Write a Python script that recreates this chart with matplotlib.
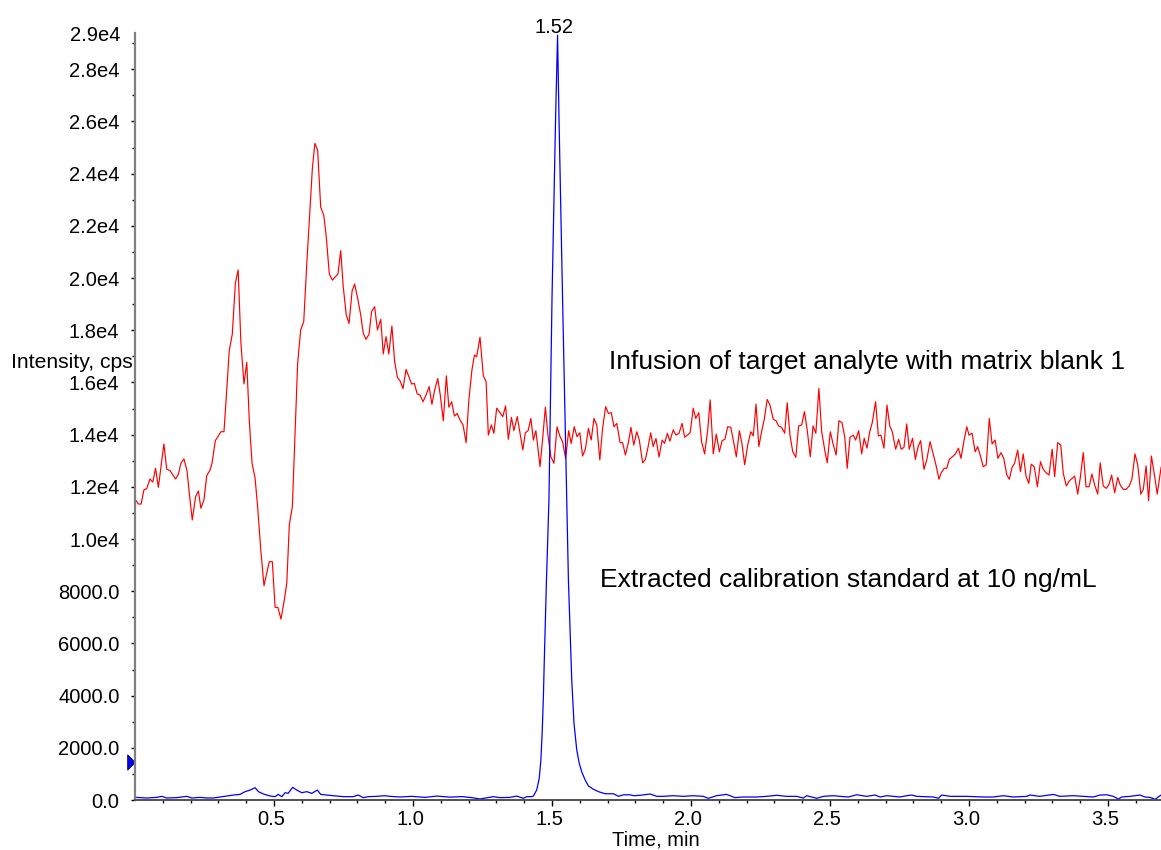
import numpy as np
import matplotlib
matplotlib.use("Agg")
import matplotlib.pyplot as plt
from matplotlib.path import Path
import matplotlib.transforms as mtransforms

plt.rcParams['font.family'] = ['Liberation Sans', 'DejaVu Sans']

# --- Infusion trace (red): time in min, intensity in kcps ---
red_time = [
    0.004, 0.012, 0.022, 0.032, 0.042, 0.054, 0.064, 0.074, 0.084, 0.104,
    0.114, 0.126, 0.146, 0.156, 0.165, 0.176, 0.187, 0.198, 0.206, 0.218,
    0.228, 0.237, 0.248, 0.258, 0.270, 0.277, 0.289, 0.300, 0.309, 0.320,
    0.330, 0.339, 0.350, 0.361, 0.371, 0.381, 0.392, 0.402, 0.411, 0.421,
    0.432, 0.442, 0.453, 0.464, 0.474, 0.483, 0.494, 0.504, 0.514, 0.525,
    0.536, 0.546, 0.555, 0.566, 0.576, 0.585, 0.596, 0.607, 0.618, 0.627,
    0.638, 0.647, 0.657, 0.668, 0.679, 0.688, 0.699, 0.710, 0.721, 0.730,
    0.740, 0.749, 0.760, 0.770, 0.781, 0.790, 0.801, 0.812, 0.821, 0.831,
    0.842, 0.851, 0.862, 0.872, 0.884, 0.893, 0.903, 0.913, 0.924, 0.934,
    0.944, 0.953, 0.964, 0.975, 0.986, 0.995, 1.005, 1.015, 1.025, 1.036,
    1.047, 1.058, 1.068, 1.078, 1.089, 1.098, 1.109, 1.120, 1.129, 1.139,
    1.149, 1.159, 1.169, 1.180, 1.191, 1.201, 1.212, 1.221, 1.229, 1.241,
    1.253, 1.263, 1.271, 1.282, 1.291, 1.301, 1.310, 1.323, 1.333, 1.343,
    1.354, 1.363, 1.375, 1.385, 1.395, 1.404, 1.414, 1.424, 1.433, 1.442,
    1.457, 1.467, 1.476, 1.486, 1.496, 1.507, 1.518, 1.529, 1.538, 1.549,
    1.560, 1.569, 1.580, 1.590, 1.600, 1.610, 1.620, 1.631, 1.641, 1.651,
    1.661, 1.672, 1.682, 1.693, 1.703, 1.713, 1.723, 1.733, 1.745, 1.754,
    1.764, 1.774, 1.784, 1.794, 1.805, 1.814, 1.826, 1.836, 1.845, 1.855,
    1.864, 1.874, 1.885, 1.896, 1.905, 1.915, 1.924, 1.936, 1.946, 1.957,
    1.968, 1.977, 1.987, 1.997, 2.008, 2.017, 2.028, 2.038, 2.049, 2.060,
    2.069, 2.080, 2.091, 2.102, 2.112, 2.122, 2.132, 2.143, 2.152, 2.163,
    2.174, 2.183, 2.193, 2.204, 2.215, 2.224, 2.234, 2.244, 2.254, 2.264,
    2.274, 2.284, 2.296, 2.306, 2.315, 2.326, 2.337, 2.346, 2.356, 2.366,
    2.377, 2.387, 2.398, 2.408, 2.418, 2.429, 2.439, 2.449, 2.460, 2.470,
    2.481, 2.490, 2.501, 2.512, 2.522, 2.532, 2.543, 2.553, 2.562, 2.572,
    2.584, 2.592, 2.603, 2.614, 2.623, 2.633, 2.643, 2.652, 2.664, 2.674,
    2.683, 2.694, 2.705, 2.715, 2.724, 2.736, 2.747, 2.756, 2.766, 2.776,
    2.785, 2.797, 2.807, 2.817, 2.826, 2.838, 2.848, 2.860, 2.872, 2.881,
    2.892, 2.900, 2.911, 2.920, 2.929, 2.940, 2.951, 2.962, 2.971, 2.982,
    2.992, 3.000, 3.011, 3.022, 3.031, 3.042, 3.051, 3.062, 3.073, 3.083,
    3.094, 3.104, 3.115, 3.125, 3.136, 3.145, 3.155, 3.164, 3.175, 3.185,
    3.195, 3.205, 3.215, 3.224, 3.235, 3.246, 3.257, 3.267, 3.277, 3.288,
    3.299, 3.308, 3.319, 3.330, 3.339, 3.350, 3.361, 3.372, 3.380, 3.391,
    3.400, 3.411, 3.421, 3.432, 3.442, 3.452, 3.463, 3.472, 3.483, 3.494,
    3.504, 3.513, 3.524, 3.535, 3.544, 3.555, 3.565, 3.576, 3.586, 3.597,
    3.607, 3.618, 3.627, 3.637, 3.646, 3.656, 3.668, 3.677, 3.691,
]
red_kcps = [
    11.47, 11.34, 11.34, 11.88, 11.93, 12.30, 12.18, 12.71, 11.98, 13.64,
    12.68, 12.62, 12.30, 12.48, 12.90, 13.07, 12.62, 11.49, 10.73, 11.62,
    11.84, 11.18, 11.49, 12.43, 12.64, 12.90, 13.77, 13.95, 14.11, 14.11,
    15.71, 17.22, 17.85, 19.80, 20.31, 17.50, 15.94, 16.77, 14.56, 12.90,
    12.33, 11.11, 9.51, 8.21, 8.69, 9.13, 9.13, 7.38, 7.38, 6.93,
    7.60, 8.30, 10.54, 11.24, 14.18, 16.73, 18.01, 18.33, 20.56, 22.22,
    24.20, 25.16, 24.90, 22.71, 22.41, 21.58, 20.15, 19.92, 20.05, 20.15,
    21.05, 19.67, 18.58, 18.26, 19.51, 19.77, 19.22, 18.58, 17.88, 17.65,
    17.85, 18.71, 18.90, 18.01, 18.42, 17.09, 17.75, 17.09, 18.16, 16.79,
    16.19, 16.07, 15.76, 16.50, 16.19, 15.94, 15.96, 15.56, 15.52, 15.26,
    15.52, 15.84, 15.16, 15.71, 16.15, 15.52, 14.53, 16.25, 15.05, 15.26,
    14.71, 14.81, 14.56, 14.37, 13.69, 15.33, 16.48, 17.05, 16.98, 17.73,
    16.25, 16.03, 13.98, 14.37, 14.05, 15.01, 14.88, 14.69, 15.10, 13.82,
    14.66, 14.15, 14.69, 14.05, 13.41, 14.07, 14.15, 14.62, 13.79, 14.15,
    12.77, 13.92, 15.05, 13.92, 13.15, 12.90, 14.30, 13.92, 13.73, 13.09,
    14.15, 13.66, 14.30, 13.92, 14.07, 13.18, 13.44, 14.24, 13.79, 14.62,
    14.37, 13.03, 14.24, 15.07, 14.81, 14.84, 14.30, 14.43, 13.69, 13.69,
    13.22, 13.66, 14.28, 13.60, 14.11, 13.79, 12.92, 13.05, 13.50, 14.07,
    13.54, 13.85, 13.14, 13.79, 13.66, 14.05, 13.75, 14.18, 13.98, 14.05,
    14.43, 13.90, 13.98, 14.07, 15.01, 14.62, 14.84, 13.73, 13.26, 14.18,
    15.33, 13.26, 14.02, 13.34, 13.77, 13.82, 14.30, 14.28, 13.79, 13.15,
    14.15, 13.67, 12.84, 13.60, 14.11, 13.95, 15.17, 13.54, 14.11, 14.62,
    15.35, 15.13, 14.59, 14.53, 14.33, 14.28, 14.05, 15.22, 13.98, 13.34,
    13.13, 14.33, 14.37, 14.88, 14.18, 13.15, 14.33, 14.05, 15.77, 14.11,
    13.41, 12.92, 14.11, 13.60, 13.22, 14.53, 14.46, 13.92, 12.71, 13.90,
    13.98, 13.79, 14.15, 13.26, 13.86, 13.48, 14.11, 14.46, 15.26, 13.95,
    13.98, 13.48, 15.13, 14.33, 14.11, 13.44, 13.82, 13.44, 13.51, 14.41,
    13.44, 13.86, 13.05, 13.54, 13.77, 12.67, 13.03, 13.73, 13.22, 12.84,
    12.29, 12.54, 12.71, 12.71, 13.05, 13.15, 13.26, 13.48, 13.09, 13.77,
    14.30, 13.98, 14.05, 13.34, 13.54, 13.15, 12.77, 12.84, 14.62, 13.64,
    13.79, 13.09, 13.31, 13.09, 12.45, 12.29, 12.75, 12.90, 13.41, 12.58,
    13.26, 12.41, 12.13, 12.87, 12.75, 12.00, 12.96, 12.67, 12.54, 12.45,
    13.44, 12.39, 13.69, 13.60, 12.52, 12.03, 12.23, 12.33, 12.41, 11.72,
    12.33, 13.31, 12.00, 12.00, 12.49, 12.07, 11.72, 12.92, 12.03, 11.94,
    12.11, 12.45, 11.77, 12.36, 12.07, 11.90, 11.90, 12.03, 12.29, 13.26,
    12.84, 11.72, 11.90, 12.80, 11.47, 13.18, 12.39, 11.72, 12.75,
]

# --- Calibration standard trace (blue): time in min, intensity in cps ---
blue_time = [
    0.004, 0.042, 0.078, 0.096, 0.114, 0.150, 0.186, 0.204, 0.234, 0.258,
    0.282, 0.306, 0.330, 0.354, 0.378, 0.396, 0.414, 0.432, 0.444, 0.462,
    0.486, 0.504, 0.515, 0.528, 0.540, 0.551, 0.567, 0.582, 0.600, 0.618,
    0.636, 0.656, 0.668, 0.690, 0.713, 0.749, 0.785, 0.803, 0.821, 0.839,
    0.869, 0.899, 0.917, 0.953, 0.996, 1.043, 1.086, 1.133, 1.176, 1.212,
    1.241, 1.289, 1.313, 1.349, 1.373, 1.397, 1.409, 1.427, 1.433, 1.445,
    1.454, 1.460, 1.465, 1.469, 1.472, 1.476, 1.480, 1.489, 1.500, 1.513,
    1.520, 1.525, 1.538, 1.553, 1.559, 1.565, 1.571, 1.579, 1.589, 1.598,
    1.607, 1.619, 1.631, 1.649, 1.667, 1.691, 1.721, 1.739, 1.757, 1.781,
    1.793, 1.817, 1.853, 1.877, 1.900, 1.936, 1.972, 2.008, 2.044, 2.062,
    2.092, 2.128, 2.158, 2.188, 2.236, 2.272, 2.308, 2.344, 2.380, 2.404,
    2.416, 2.452, 2.476, 2.512, 2.536, 2.566, 2.596, 2.632, 2.662, 2.680,
    2.704, 2.728, 2.752, 2.776, 2.794, 2.812, 2.872, 2.890, 2.902, 2.932,
    2.992, 3.051, 3.087, 3.123, 3.159, 3.208, 3.219, 3.255, 3.303, 3.327,
    3.375, 3.411, 3.447, 3.471, 3.495, 3.519, 3.537, 3.550, 3.579, 3.615,
    3.633, 3.651, 3.669, 3.691,
]
blue_cps = [
    100, 77, 100, 140, 77, 90, 140, 77, 100, 77,
    77, 115, 153, 190, 215, 320, 380, 470, 320, 230,
    153, 128, 215, 128, 280, 255, 485, 380, 280, 320,
    255, 380, 215, 190, 165, 128, 128, 190, 90, 128,
    140, 165, 140, 115, 140, 100, 150, 110, 130, 90,
    40, 128, 90, 100, 150, 65, 128, 128, 153, 383,
    830, 1530, 2680, 3960, 5240, 6770, 8400, 11490, 19200, 26200,
    29300, 26200, 19200, 11490, 8430, 6510, 4600, 2950, 1920, 1400,
    1080, 770, 540, 410, 320, 240, 240, 140, 200, 200,
    165, 180, 230, 140, 140, 165, 140, 165, 140, 65,
    165, 215, 90, 115, 115, 140, 180, 140, 140, 75,
    165, 65, 140, 165, 140, 115, 200, 140, 190, 115,
    165, 140, 115, 165, 190, 140, 115, 65, 190, 140,
    140, 115, 115, 165, 115, 140, 190, 140, 215, 140,
    165, 140, 115, 190, 200, 140, 40, 115, 140, 190,
    115, 100, 27, 190,
]

peak_time = 1.52
peak_label = "1.52"
y_top_label = "2.9e4"
trace_marker_level = 1450

xtick_values = [0.5, 1.0, 1.5, 2.0, 2.5, 3.0, 3.5]
xtick_labels = ["0.5", "1.0", "1.5", "2.0", "2.5", "3.0", "3.5"]
ytick_values = [0, 2000, 4000, 6000, 8000, 10000, 12000, 14000,
                16000, 18000, 20000, 22000, 24000, 26000, 28000]
ytick_labels = ["0.0", "2000.0", "4000.0", "6000.0", "8000.0", "1.0e4",
                "1.2e4", "1.4e4", "1.6e4", "1.8e4", "2.0e4", "2.2e4",
                "2.4e4", "2.6e4", "2.8e4"]

W, H = 1161, 850
fig = plt.figure(figsize=(W / 100, H / 100), dpi=100)
ax = fig.add_axes([135 / W, 50 / H, 1026 / W, 767 / H])

ax.plot(red_time, np.array(red_kcps) * 1000, color="#ff0000", lw=0.85)
ax.plot(blue_time, blue_cps, color="#0000ff", lw=0.9)

ax.set_xlim(0, 3.6906)
ax.set_ylim(0, 29387)

for side in ("top", "right"):
    ax.spines[side].set_visible(False)
ax.spines["left"].set_color("#808080")
ax.spines["left"].set_linewidth(1.6)
ax.spines["bottom"].set_color("#505050")
ax.spines["bottom"].set_linewidth(1.4)

ax.set_xticks(xtick_values)
ax.set_xticklabels(xtick_labels)
ax.set_xticks(np.arange(0.1, 3.7, 0.1), minor=True)
ax.set_yticks(ytick_values)
ax.set_yticklabels(ytick_labels)
ax.set_yticks(np.arange(1000, 29001, 1000), minor=True)

ax.tick_params(axis="x", which="major", direction="out", length=4.5, width=1,
               pad=3, labelsize=14.5, colors="black")
ax.tick_params(axis="x", which="minor", direction="out", length=2.2, width=1)
ax.tick_params(axis="y", which="major", direction="out", length=3.2, width=1,
               pad=8, labelsize=14.5, colors="black")
ax.tick_params(axis="y", which="minor", direction="out", length=2.0, width=1)

# nudge the time labels slightly left of their ticks
shift = mtransforms.ScaledTranslation(-3 / 100, 0, fig.dpi_scale_trans)
for lbl in ax.get_xticklabels():
    lbl.set_transform(lbl.get_transform() + shift)

# top-of-scale label
ytrans = mtransforms.blended_transform_factory(ax.transAxes, ax.transData)
ax.text(-0.0145, 29300, y_top_label, transform=ytrans, ha="right",
        va="center", fontsize=14.5)

# retention time label on the peak apex
ax.annotate(peak_label, xy=(peak_time, max(blue_cps)), xytext=(-2.5, 1.5),
            textcoords="offset points", ha="center", va="baseline",
            fontsize=14.5, annotation_clip=False)

# trace marker on the left of the intensity axis
tri = Path([(-0.5, 1.0), (0.5, 0.0), (-0.5, -1.0), (-0.5, 1.0)],
           [Path.MOVETO, Path.LINETO, Path.LINETO, Path.CLOSEPOLY])
ax.plot([-0.0035], [trace_marker_level], transform=ytrans, marker=tri,
        markersize=11, markerfacecolor="#0000ff", markeredgecolor="#000040",
        markeredgewidth=0.6, clip_on=False, linestyle="none")

fig.text(133 / W, 1 - 362 / H, "Intensity, cps", ha="right", va="center",
         fontsize=15.2)
fig.text(656 / W, 1 - 840 / H, "Time, min", ha="center", va="center",
         fontsize=14.5)

fig.text(609 / W, 1 - 362 / H, "Infusion of target analyte with matrix blank 1",
         ha="left", va="center", fontsize=19)
fig.text(600 / W, 1 - 580 / H, "Extracted calibration standard at 10 ng/mL",
         ha="left", va="center", fontsize=19)

fig.savefig("out.png", dpi=100)
